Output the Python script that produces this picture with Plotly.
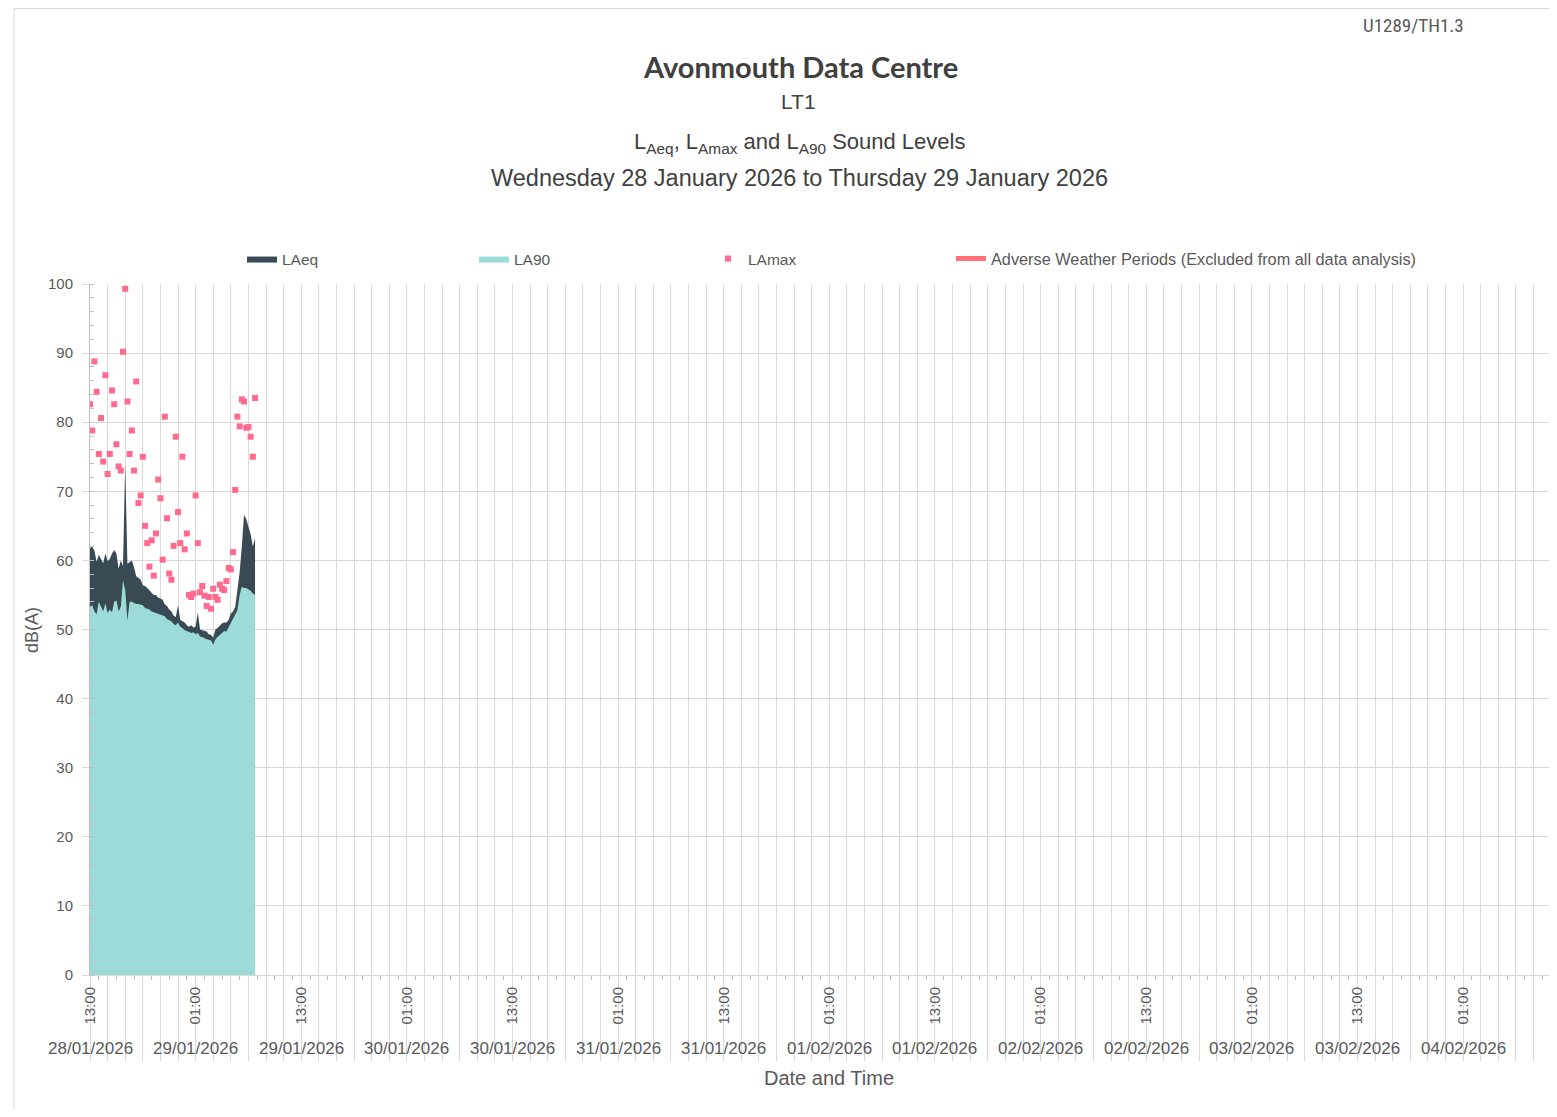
import pandas as pd
import plotly.graph_objects as go

# ---------------- data ----------------
start_time = "2026-01-28 13:00"
interval = "15min"

laeq = [61.8, 62.0, 61.4, 59.8, 60.8, 60.2, 59.6, 61.0, 59.9, 60.2,
        61.0, 61.5, 61.0, 58.8, 60.0, 59.2, 74.0, 59.5, 59.8, 60.0,
        59.0, 57.7, 57.5, 57.2, 56.4, 56.3, 56.0, 55.7, 55.3, 55.0,
        55.0, 54.6, 54.5, 54.3, 53.6, 53.4, 52.9, 52.6, 52.0, 51.8,
        53.5, 51.4, 51.2, 51.0, 50.6, 50.4, 50.6, 50.3, 50.4, 52.5,
        50.0, 49.9, 49.8, 49.7, 49.3, 49.2, 48.8, 50.0, 50.2, 50.6,
        50.9, 51.0, 51.0, 51.4, 52.3, 52.6, 53.3, 55.7, 58.3, 62.0,
        66.6, 66.0, 64.8, 63.8, 62.0, 63.2]

la90 = [53.3, 53.5, 52.6, 52.2, 54.0, 53.2, 52.6, 53.8, 52.4, 52.9,
        52.5, 54.0, 54.2, 52.6, 53.3, 57.1, 55.7, 51.3, 54.0, 54.0,
        53.8, 53.7, 53.7, 53.6, 53.5, 53.1, 53.0, 52.9, 52.6, 52.5,
        52.4, 52.2, 52.1, 52.0, 51.9, 51.5, 51.3, 51.2, 50.8, 50.6,
        51.0, 50.4, 50.2, 49.9, 49.8, 49.6, 49.5, 49.6, 49.3, 49.5,
        49.0, 48.9, 48.7, 48.6, 48.5, 48.4, 47.8, 48.6, 48.9, 49.2,
        49.6, 49.8, 49.7, 50.3, 50.8, 51.5, 52.1, 52.8, 55.0, 56.2,
        56.0, 56.0, 55.8, 55.6, 55.2, 55.0]

lamax = [82.6, 78.8, 88.8, 84.4, 75.4, 80.6, 74.3, 86.8, 72.5, 75.4,
         84.6, 82.6, 76.8, 73.6, 73.0, 90.2, 99.3, 83.0, 75.4, 78.8,
         73.0, 85.9, 68.3, 69.4, 75.0, 65.0, 62.5, 59.1, 62.9, 57.8,
         63.9, 71.7, 69.0, 60.1, 80.8, 66.1, 58.1, 57.2, 62.1, 77.9,
         67.0, 62.5, 75.0, 61.6, 63.9, 55.0, 54.7, 55.2, 69.4, 62.5,
         55.4, 56.3, 54.9, 53.4, 54.7, 53.0, 55.9, 54.7, 54.3, 56.5,
         55.9, 55.7, 57.0, 58.9, 58.7, 61.2, 70.2, 80.8, 79.4, 83.3,
         83.0, 79.2, 79.3, 77.9, 75.0, 83.5]

axis_start = "2026-01-28 13:00"
axis_end = "2026-02-04 11:40"
label_start = "2026-01-28 13:00"
label_end = "2026-02-04 01:00"

series_names = ["LAeq", "LA90", "LAmax",
                "Adverse Weather Periods (Excluded from all data analysis)"]

# ---------------- styling ----------------
C_LAEQ = "#3A4A54"
C_LA90 = "#9DDBD9"
C_LAMAX = "#FF6A8E"
C_ADV = "#FF7074"
GRID = "#D9D9D9"
TXT = "#595959"
DARK = "#404040"
FONT = "Liberation Sans, Arial, sans-serif"
NARROW = "Liberation Sans Narrow, Roboto Condensed, Arial Narrow, sans-serif"

times = pd.date_range(start_time, periods=len(laeq), freq=interval)

# page body has an 8px margin: figure placed at (8, 8)
OFF = 8
W, H = 1557 - OFF, 1117 - 2 * OFF
PLOT_L, PLOT_R, PLOT_T, PLOT_B = 90, 1557, 284, 975   # screen pixels
ML = PLOT_L - OFF
MR = (OFF + W) - PLOT_R
MT = PLOT_T - OFF
MB = (OFF + H) - PLOT_B
PW, PH = PLOT_R - PLOT_L, PLOT_B - PLOT_T


def px(xs):
    return (xs - PLOT_L) / PW


def py(ys):
    return (PLOT_B - ys) / PH


fig = go.Figure()
fig.add_trace(go.Scatter(x=times, y=laeq, name=series_names[0], mode="lines",
                         line=dict(width=0, color=C_LAEQ), fill="tozeroy",
                         fillcolor=C_LAEQ, legend="legend"))
fig.add_trace(go.Scatter(x=times, y=la90, name=series_names[1], mode="lines",
                         line=dict(width=0, color=C_LA90), fill="tozeroy",
                         fillcolor=C_LA90, legend="legend2"))
fig.add_trace(go.Scatter(x=times, y=lamax, name=series_names[2], mode="markers",
                         marker=dict(symbol="square", size=6, color=C_LAMAX),
                         legend="legend3"))
fig.add_trace(go.Scatter(x=[None], y=[None], name=series_names[3], mode="lines",
                         line=dict(width=5, color=C_ADV), legend="legend4"))

# overlay axis carrying the rotated time labels
ticks12 = pd.date_range(label_start, label_end, freq="12h")
fig.add_trace(go.Scatter(x=[ticks12[0]], y=[None], xaxis="x2", showlegend=False,
                         hoverinfo="skip"))


def leg(xs, size=15.5):
    return dict(orientation="h", x=px(xs), y=py(259), xanchor="left",
                yanchor="middle", font=dict(family=FONT, size=size, color=TXT),
                bgcolor="rgba(0,0,0,0)")


fig.update_layout(
    width=W, height=H, autosize=False,
    margin=dict(l=ML, r=MR, t=MT, b=MB),
    paper_bgcolor="white", plot_bgcolor="white",
    font=dict(family=FONT, color=TXT),
    showlegend=True,
    legend=leg(242), legend2=leg(474), legend3=leg(708), legend4=leg(951, 16.3),
    xaxis=dict(type="date", range=[axis_start, axis_end],
               tickmode="linear", tick0=axis_start, dtick=2 * 3600 * 1000,
               ticks="outside", ticklen=85, tickcolor=GRID, tickwidth=1,
               showticklabels=False, showgrid=True, gridcolor=GRID,
               showline=True, linecolor=GRID, linewidth=1, zeroline=False,
               minor=dict(dtick=3600 * 1000, tick0=axis_start, ticks="outside",
                          ticklen=4, tickcolor="#BFBFBF", showgrid=False)),
    xaxis2=dict(type="date", range=[axis_start, axis_end], overlaying="x",
                anchor="y", side="bottom", tickmode="array",
                tickvals=list(ticks12),
                ticktext=[t.strftime("%H:%M") for t in ticks12],
                tickangle=-90, ticks="", ticklabelstandoff=8,
                showgrid=False, showline=False,
                zeroline=False, tickfont=dict(family=FONT, size=15, color=TXT)),
    yaxis=dict(range=[0, 100], tickmode="linear", tick0=0, dtick=10,
               ticks="outside", ticklen=7, tickcolor=GRID, ticklabelstandoff=6,
               showgrid=True, gridcolor=GRID, showline=True, linecolor="#BFBFBF",
               zeroline=False, tickfont=dict(family=FONT, size=15, color=TXT),
               minor=dict(dtick=2, ticks="inside", ticklen=4,
                          tickcolor="#BFBFBF", showgrid=False)),
)

ann = []
ann.append(dict(text="Avonmouth Data Centre", x=px(800), y=py(66),
                font=dict(family="Lato, Open Sans, sans-serif", size=29,
                          color=DARK, weight="bold")))
ann.append(dict(text="LT1", x=px(798), y=py(101),
                font=dict(family=FONT, size=21, color=DARK)))
ann.append(dict(text="L<sub>Aeq</sub>, L<sub>Amax</sub> and L<sub>A90</sub> Sound Levels",
                x=px(799), y=py(143),
                font=dict(family=FONT, size=22, color=DARK)))
ann.append(dict(text="Wednesday 28 January 2026 to Thursday 29 January 2026",
                x=px(799), y=py(178),
                font=dict(family=FONT, size=23.5, color=DARK)))
ann.append(dict(text="U1289/TH1.3", x=px(1413), y=py(25),
                font=dict(family=NARROW, size=19, color=TXT)))
ann.append(dict(text="dB(A)", x=px(32), y=py(630), textangle=-90,
                font=dict(family=FONT, size=18, color=TXT)))
ann.append(dict(text="Date and Time", x=px(829), y=py(1078),
                font=dict(family=FONT, size=20, color=TXT)))
for t in ticks12:
    ann.append(dict(text=t.strftime("%d/%m/%Y"), x=t, xref="x", y=py(1048),
                    font=dict(family=FONT, size=17, color=TXT)))
for a in ann:
    a.setdefault("xref", "paper")
    a.setdefault("yref", "paper")
    a.update(showarrow=False, xanchor="center", yanchor="middle")
fig.update_layout(annotations=ann)

# outer chart border
fig.add_shape(type="rect", xref="paper", yref="paper",
              x0=px(14), x1=px(1600), y0=py(1200), y1=py(8.5),
              line=dict(color="#D9D9D9", width=1), layer="below")

fig.write_html("out.html")
